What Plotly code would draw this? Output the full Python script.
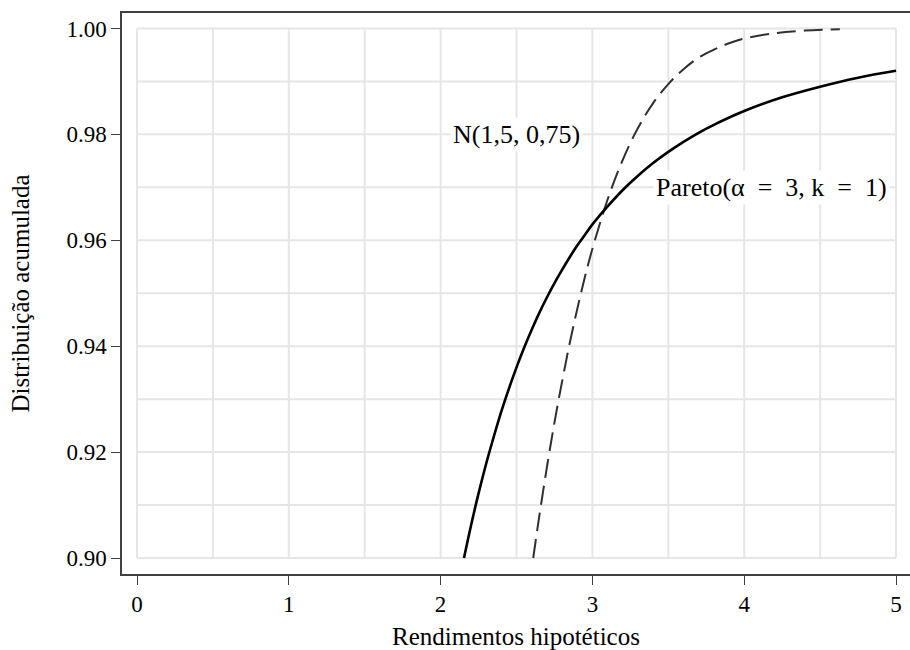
import plotly.graph_objects as go

# Pareto(alpha=3, k=1) cumulative distribution
pareto_x = [2.154, 2.2, 2.25, 2.3, 2.35, 2.4, 2.45, 2.5, 2.55, 2.6, 2.65, 2.7, 2.75, 2.8, 2.85, 2.9, 2.95,
            3.0, 3.1, 3.2, 3.3, 3.4, 3.5, 3.6, 3.7, 3.8, 4.0, 4.25, 4.5, 4.75, 5.0]
pareto_y = [0.9000, 0.9061, 0.9122, 0.9178, 0.9229, 0.9277, 0.9320, 0.9360, 0.9397, 0.9431, 0.9463, 0.9492,
            0.9519, 0.9544, 0.9568, 0.9590, 0.9610, 0.9630, 0.9664, 0.9695, 0.9722, 0.9746, 0.9767, 0.9786,
            0.9803, 0.9818, 0.9844, 0.9870, 0.9890, 0.9907, 0.9920]

# N(1,5, 0,75) cumulative distribution
normal_x = [2.61, 2.65, 2.7, 2.75, 2.8, 2.85, 2.9, 2.95, 3.0, 3.1, 3.2, 3.3, 3.4, 3.5, 3.6, 3.7, 3.8, 3.9,
            4.0, 4.2, 4.4, 4.63]
normal_y = [0.9000, 0.9079, 0.9171, 0.9256, 0.9333, 0.9405, 0.9470, 0.9530, 0.9584, 0.9677, 0.9752, 0.9812,
            0.9859, 0.9895, 0.9923, 0.9945, 0.9960, 0.9972, 0.9981, 0.9991, 0.9996, 0.99985]

x_ticks = [0, 1, 2, 3, 4, 5]
y_ticks = [0.90, 0.92, 0.94, 0.96, 0.98, 1.00]
x_grid = [0, 0.5, 1, 1.5, 2, 2.5, 3, 3.5, 4, 4.5, 5]
y_grid = [0.90, 0.91, 0.92, 0.93, 0.94, 0.95, 0.96, 0.97, 0.98, 0.99, 1.00]

label_normal = "N(1,5, 0,75)"
label_pareto = "Pareto(α\u2002=\u20023, k\u2002=\u20021)"

FONT = "Liberation Serif"
AX = "#404040"
GRID = "#e6e6e6"

fig = go.Figure()

fig.add_trace(go.Scatter(x=normal_x, y=normal_y, mode="lines", line_shape="spline",
                         line=dict(color="#303030", width=2, dash="19px,8px"),
                         showlegend=False, hoverinfo="skip"))
fig.add_trace(go.Scatter(x=pareto_x, y=pareto_y, mode="lines", line_shape="spline",
                         line=dict(color="black", width=2.6),
                         showlegend=False, hoverinfo="skip"))

shapes = []
for gx in x_grid:
    shapes.append(dict(type="line", xref="x", yref="y", x0=gx, x1=gx, y0=y_grid[0], y1=y_grid[-1],
                       line=dict(color=GRID, width=2), layer="below"))
for gy in y_grid:
    shapes.append(dict(type="line", xref="x", yref="y", x0=x_grid[0], x1=x_grid[-1], y0=gy, y1=gy,
                       line=dict(color=GRID, width=2), layer="below"))

fig.update_layout(
    width=910, height=650,
    margin=dict(l=122, r=0, t=13, b=76),
    paper_bgcolor="white", plot_bgcolor="white",
    font=dict(family=FONT, size=23, color="black"),
    shapes=shapes,
    annotations=[
        dict(x=2.5, y=0.98, xref="x", yref="y", text=label_normal, showarrow=False,
             bgcolor="white", font=dict(family=FONT, size=26, color="black"), borderpad=2),
        dict(x=4.18, y=0.97, xref="x", yref="y", text=label_pareto, showarrow=False,
             bgcolor="white", font=dict(family=FONT, size=26, color="black"), borderpad=2),
    ],
    xaxis=dict(range=[-0.0988, 5.092], tickvals=x_ticks, ticktext=[str(v) for v in x_ticks],
               showgrid=False, zeroline=False, showline=True, linecolor=AX, linewidth=1.5,
               mirror=True, ticks="outside", ticklen=9, tickwidth=1, tickcolor=AX,
               title=dict(text="Rendimentos hipotéticos", standoff=12, font=dict(size=25))),
    yaxis=dict(range=[0.89698, 1.00292], tickvals=y_ticks, ticktext=[f"{v:.2f}" for v in y_ticks],
               showgrid=False, zeroline=False, showline=True, linecolor=AX, linewidth=1.5,
               ticks="outside", ticklen=9, tickwidth=1, tickcolor=AX,
               title=dict(text="Distribuição acumulada", standoff=30, font=dict(size=25))),
)

fig.write_html("out.html")
